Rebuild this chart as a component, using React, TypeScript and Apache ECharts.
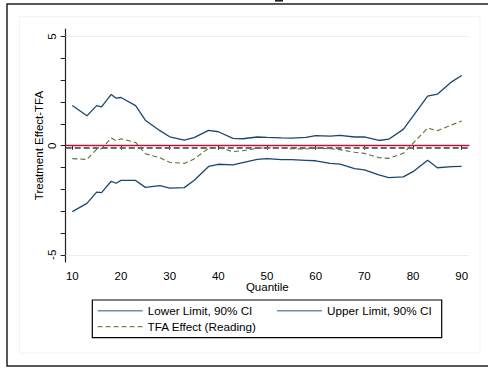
import React, { useEffect, useRef } from "react";
import * as echarts from "echarts";

const quantiles = [10, 13, 15, 16, 18, 19, 20, 23, 25, 28, 30, 33, 35, 38, 40, 43, 45, 48, 50, 53, 55, 58, 60, 63, 65, 68, 70, 73, 75, 78, 80, 83, 85, 88, 90];
const lowerLimit = [-3.02, -2.64, -2.13, -2.15, -1.63, -1.72, -1.59, -1.59, -1.91, -1.83, -1.94, -1.92, -1.59, -0.95, -0.85, -0.88, -0.78, -0.63, -0.59, -0.64, -0.64, -0.67, -0.69, -0.81, -0.84, -1.05, -1.11, -1.34, -1.46, -1.43, -1.19, -0.67, -1.01, -0.96, -0.95];
const upperLimit = [1.84, 1.37, 1.84, 1.78, 2.35, 2.18, 2.21, 1.84, 1.17, 0.69, 0.41, 0.26, 0.37, 0.7, 0.64, 0.34, 0.32, 0.4, 0.38, 0.36, 0.35, 0.38, 0.46, 0.44, 0.47, 0.4, 0.4, 0.24, 0.3, 0.75, 1.36, 2.27, 2.36, 2.94, 3.22];
const tfaEffect = [-0.59, -0.63, -0.17, -0.14, 0.35, 0.23, 0.32, 0.15, -0.37, -0.55, -0.76, -0.81, -0.61, -0.12, -0.09, -0.27, -0.23, -0.12, -0.09, -0.11, -0.14, -0.15, -0.11, -0.14, -0.18, -0.3, -0.35, -0.55, -0.58, -0.35, 0.11, 0.81, 0.69, 0.96, 1.13];
const xTickValues = [10, 20, 30, 40, 50, 60, 70, 80, 90];
const yLabelValues = [-5, 0, 5];
const yTickValues = [-5, -4, -3, -2, -1, 0, 1, 2, 3, 4, 5];
const zeroLine = 0;
const averageEffect = -0.09;
const gridValues = [-5, 5];

const FONT = "'Liberation Sans', Arial, sans-serif";
const NAVY = "#1a476f";
const GREEN = "#55752f";
const HIDE_SYMBOL = { color: "transparent", borderWidth: 0, borderColor: "transparent" };

export default function App() {
  const ref = useRef<HTMLDivElement>(null);
  useEffect(() => {
    if (!ref.current) return;
    const chart = echarts.init(ref.current, undefined, { renderer: "svg" });
    const pairs = (vals: number[]) => quantiles.map((q, i) => [q, vals[i]]);
    chart.setOption({
      animation: false,
      backgroundColor: "#ffffff",
      textStyle: { fontFamily: FONT },
      grid: { left: 65.7, right: 19, top: 29, bottom: 107, containLabel: false },
      xAxis: {
        type: "value",
        min: 8.64,
        max: 91.5,
        name: "Quantile",
        nameLocation: "middle",
        nameGap: 19,
        nameMoveOverlap: false,
        nameTextStyle: { color: "#000", fontSize: 11.5, fontFamily: FONT },
        axisLine: { show: true, lineStyle: { color: "#222", width: 1.2 } },
        axisTick: { show: true, inside: false, length: 4, customValues: xTickValues, lineStyle: { color: "#222" } },
        axisLabel: { customValues: xTickValues, color: "#000", fontSize: 11.5, margin: 8, fontFamily: FONT },
        splitLine: { show: false },
      },
      yAxis: {
        type: "value",
        min: -5.33,
        max: 5.35,
        name: "Treatment Effect-TFA",
        nameLocation: "middle",
        nameGap: 21,
        nameMoveOverlap: false,
        nameRotate: 90,
        nameTextStyle: { color: "#000", fontSize: 11.5, fontFamily: FONT },
        axisLine: { show: true, lineStyle: { color: "#222", width: 1.2 } },
        axisTick: { show: true, inside: false, length: 5, customValues: yTickValues, lineStyle: { color: "#222" } },
        axisLabel: { customValues: yLabelValues, rotate: 90, color: "#000", fontSize: 11.5, margin: 8, fontFamily: FONT },
        splitLine: { show: false },
      },
      legend: [
        {
          left: 97,
          top: 304.7,
          padding: 0,
          itemGap: 24,
          itemWidth: 45,
          itemHeight: 14,
          itemStyle: HIDE_SYMBOL,
          textStyle: { color: "#000", fontSize: 11.7, fontFamily: FONT },
          data: [
            { name: "Lower Limit, 90% CI", itemStyle: HIDE_SYMBOL, lineStyle: { color: "#6f8db0", width: 1.5 } },
            { name: "Upper Limit, 90% CI", itemStyle: HIDE_SYMBOL, lineStyle: { color: "#6f8db0", width: 1.5 } },
          ],
        },
        {
          left: 97,
          top: 320.7,
          padding: 0,
          itemWidth: 45,
          itemHeight: 14,
          itemStyle: HIDE_SYMBOL,
          textStyle: { color: "#000", fontSize: 11.7, fontFamily: FONT },
          data: [{ name: "TFA Effect (Reading)", itemStyle: HIDE_SYMBOL, lineStyle: { color: "#6e8a45", width: 1.2, type: [5, 3] } }],
        },
      ],
      graphic: [
        { type: "rect", shape: { x: 7, y: 4, width: 490, height: 362 }, style: { fill: "none", stroke: "#222", lineWidth: 1.5 }, silent: true },
        { type: "rect", shape: { x: 19.3, y: 16.7, width: 460.7, height: 336.3 }, style: { fill: "none", stroke: "#eef3f4", lineWidth: 1 }, silent: true },
        { type: "rect", shape: { x: 92.3, y: 300, width: 349.4, height: 37.7 }, style: { fill: "none", stroke: "#000", lineWidth: 1.2 }, silent: true },
        { type: "rect", shape: { x: 275, y: 0, width: 8, height: 1.6 }, style: { fill: "#222" }, silent: true },
      ],
      series: [
        {
          name: "Lower Limit, 90% CI",
          type: "line",
          data: pairs(lowerLimit),
          symbol: "none",
          lineStyle: { color: NAVY, width: 1.3 },
          itemStyle: { color: NAVY },
          z: 3,
          markLine: {
            silent: true,
            symbol: "none",
            label: { show: false },
            data: gridValues.map((v) => ({ yAxis: v, lineStyle: { color: "#e6eff1", width: 1, type: "solid" } })),
          },
        },
        {
          name: "Upper Limit, 90% CI",
          type: "line",
          data: pairs(upperLimit),
          symbol: "none",
          lineStyle: { color: NAVY, width: 1.3 },
          itemStyle: { color: NAVY },
          z: 3,
        },
        {
          name: "TFA Effect (Reading)",
          type: "line",
          data: pairs(tfaEffect),
          symbol: "none",
          lineStyle: { color: GREEN, width: 1.1, type: [5, 3] },
          itemStyle: { color: GREEN },
          z: 4,
          markLine: {
            silent: true,
            symbol: "none",
            label: { show: false },
            data: [
              { yAxis: zeroLine, lineStyle: { color: "#c0143c", width: 1.3, type: "solid" } },
              { yAxis: averageEffect, lineStyle: { color: "#6b6b6b", width: 2, type: [6, 3] } },
            ],
          },
        },
      ],
    });
    return () => chart.dispose();
  }, []);
  return <div ref={ref} style={{ position: "fixed", left: 0, top: 0, width: 488, height: 369 }} />;
}
